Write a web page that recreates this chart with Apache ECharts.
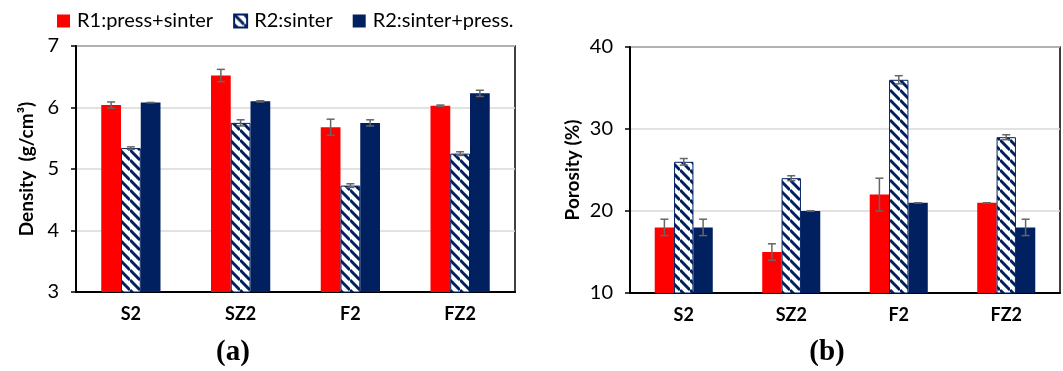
<!DOCTYPE html>
<html>
<head>
<meta charset="utf-8">
<script src="https://cdn.jsdelivr.net/npm/echarts@6/dist/echarts.min.js"></script>
<style>
html,body{margin:0;padding:0;background:#fff;}
#chart{width:1063px;height:371px;}
</style>
</head>
<body>
<div id="chart"></div>
<script>
// 数据
var categories = ['S2', 'SZ2', 'F2', 'FZ2'];
var seriesNames = ['R1:press+sinter', 'R2:sinter', 'R2:sinter+press.'];

// (a) Density
var densR1 = [6.04, 6.52, 5.68, 6.03];
var densR1Err = [0.05, 0.1, 0.13, 0.01];
var densR2 = [5.34, 5.75, 4.73, 5.25];
var densR2Err = [0.02, 0.05, 0.03, 0.03];
var densR2P = [6.08, 6.1, 5.75, 6.23];
var densR2PErr = [0.0, 0.01, 0.05, 0.05];

// (b) Porosity
var poroR1 = [18, 15, 22, 21];
var poroR1Err = [1, 1, 2, 0];
var poroR2 = [26, 24, 36, 29];
var poroR2Err = [0.4, 0.3, 0.5, 0.3];
var poroR2P = [18, 20, 21, 18];
var poroR2PErr = [1, 0, 0, 1];

var BAR_W = 0.18;
var RED = '#ff0000', NAVY = '#002060';
var FONT = 'Lato';

// 斜线填充
var hatch = document.createElement('canvas');
hatch.width = 10; hatch.height = 10;
(function () {
    var ctx = hatch.getContext('2d');
    ctx.fillStyle = '#fff';
    ctx.fillRect(0, 0, 10, 10);
    ctx.strokeStyle = NAVY;
    ctx.lineWidth = 3;
    [-10, 0, 10].forEach(function (c) {
        ctx.beginPath();
        ctx.moveTo(0, c);
        ctx.lineTo(10, 10 + c);
        ctx.stroke();
    });
})();

function renderErr(params, api) {
    var x = api.value(0), y = api.value(1), e = api.value(2), k = api.value(3);
    var c = api.coord([x, y]);
    var bw = api.size([1, 0])[0] * BAR_W;
    var cx = c[0] + (k - 1) * bw;
    var hi = api.coord([x, y + e])[1];
    var lo = api.coord([x, y - e])[1];
    var style = {stroke: '#666', lineWidth: 1.5};
    return {
        type: 'group',
        children: [
            {type: 'line', shape: {x1: cx, y1: hi, x2: cx, y2: lo}, style: style},
            {type: 'line', shape: {x1: cx - 4, y1: hi, x2: cx + 4, y2: hi}, style: style},
            {type: 'line', shape: {x1: cx - 4, y1: lo, x2: cx + 4, y2: lo}, style: style}
        ]
    };
}

function errData(vals, errs, k) {
    return vals.map(function (v, i) { return [i, v, errs[i], k]; });
}

function barSeries(name, data, idx, color) {
    return {
        name: name, type: 'bar', data: data,
        xAxisIndex: idx, yAxisIndex: idx,
        barWidth: (BAR_W * 100) + '%', barGap: '0%',
        itemStyle: color === 'hatch'
            ? {color: {image: hatch, repeat: 'repeat'}, borderColor: NAVY, borderWidth: 1}
            : {color: color},
        z: 2
    };
}

function errSeries(vals, errs, k, idx) {
    return {
        type: 'custom', renderItem: renderErr,
        data: errData(vals, errs, k),
        xAxisIndex: idx, yAxisIndex: idx, z: 5, silent: true
    };
}

function xAxis(idx) {
    return {
        type: 'category', gridIndex: idx, data: categories,
        axisLine: {lineStyle: {color: '#000', width: 2}},
        axisTick: {show: false},
        axisLabel: {color: '#000', fontFamily: FONT, fontWeight: 'bold', fontSize: 18, margin: 13}
    };
}

function yAxis(idx, min, max, interval, name, gap) {
    return {
        type: 'value', gridIndex: idx, min: min, max: max, interval: interval,
        name: name, nameLocation: 'middle', nameGap: gap,
        nameTextStyle: {color: '#000', fontFamily: FONT, fontWeight: 'bold', fontSize: 19},
        axisLine: {show: true, lineStyle: {color: '#000', width: 2}},
        axisTick: {show: true, length: 5, lineStyle: {color: '#000', width: 1.5}},
        axisLabel: {color: '#000', fontFamily: FONT, fontSize: 20, margin: 17},
        splitLine: {lineStyle: {color: '#d9d9d9', width: 1.5}}
    };
}

var myChart = echarts.init(document.getElementById('chart'));
var option = {
    animation: false,
    backgroundColor: '#fff',
    legend: {
        data: seriesNames, left: 52, top: 6,
        icon: 'rect', itemWidth: 13, itemHeight: 13, itemGap: 20,
        selectedMode: false,
        textStyle: {color: '#000', fontFamily: FONT, fontSize: 20, padding: [0, 0, 0, 2]}
    },
    title: [
        {text: '(a)', left: 228, top: 333, textAlign: 'center',
         textStyle: {fontFamily: 'Liberation Serif', fontWeight: 'bold', fontSize: 29, color: '#000'}},
        {text: '(b)', left: 822, top: 333, textAlign: 'center',
         textStyle: {fontFamily: 'Liberation Serif', fontWeight: 'bold', fontSize: 29, color: '#000'}}
    ],
    grid: [
        {left: 76, right: 548, top: 46, bottom: 79, show: true, borderColor: '#000', borderWidth: 1.5},
        {left: 630, right: 3, top: 47, bottom: 78, show: true, borderColor: '#000', borderWidth: 1.5}
    ],
    xAxis: [xAxis(0), xAxis(1)],
    yAxis: [
        yAxis(0, 3, 7, 1, 'Density  (g/cm³)', 40),
        yAxis(1, 10, 40, 10, 'Porosity (%)', 48)
    ],
    series: [
        barSeries(seriesNames[0], densR1, 0, RED),
        barSeries(seriesNames[1], densR2, 0, 'hatch'),
        barSeries(seriesNames[2], densR2P, 0, NAVY),
        barSeries(seriesNames[0], poroR1, 1, RED),
        barSeries(seriesNames[1], poroR2, 1, 'hatch'),
        barSeries(seriesNames[2], poroR2P, 1, NAVY),
        errSeries(densR1, densR1Err, 0, 0),
        errSeries(densR2, densR2Err, 1, 0),
        errSeries(densR2P, densR2PErr, 2, 0),
        errSeries(poroR1, poroR1Err, 0, 1),
        errSeries(poroR2, poroR2Err, 1, 1),
        errSeries(poroR2P, poroR2PErr, 2, 1)
    ]
};
myChart.setOption(option);
</script>
</body>
</html>
